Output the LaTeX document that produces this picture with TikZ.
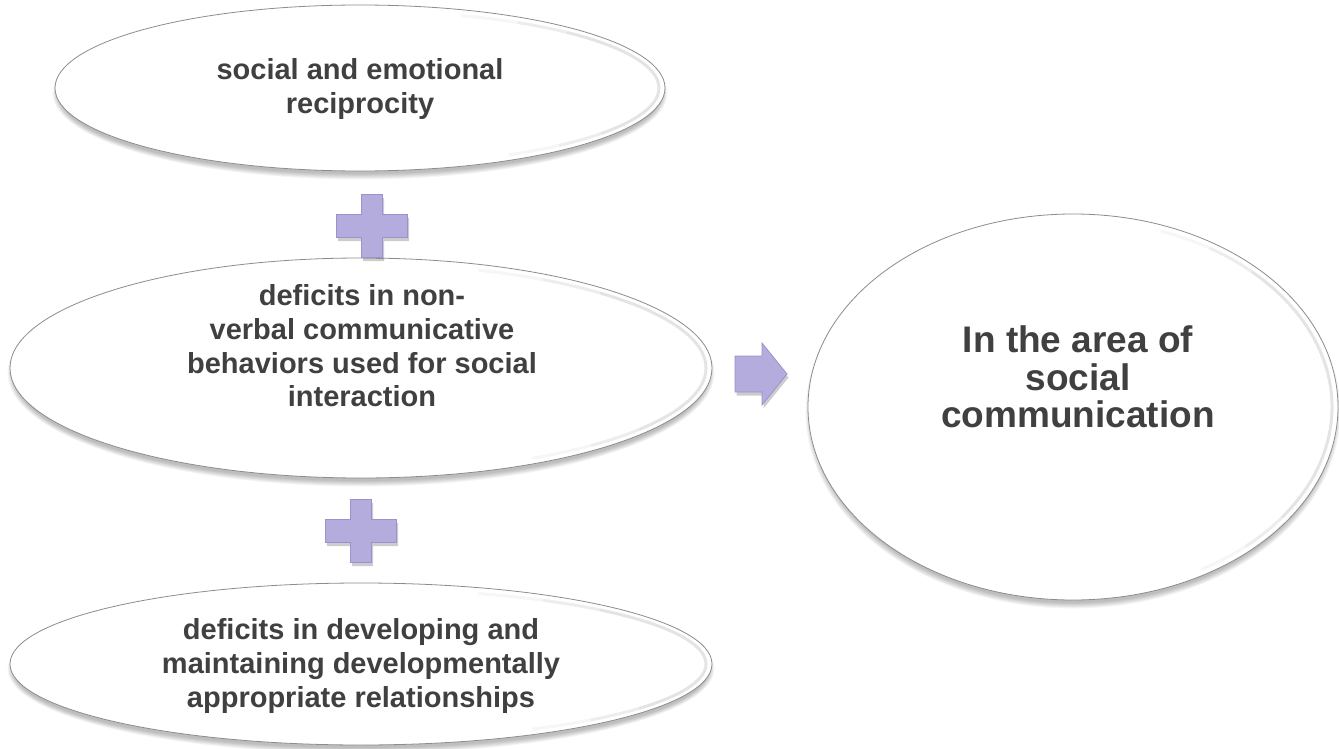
\documentclass[tikz,border=0pt]{standalone}
\usepackage{fontspec}
\setmainfont{Liberation Sans}
\usetikzlibrary{shapes.geometric}
\definecolor{txt}{HTML}{404040}
\definecolor{lav}{HTML}{B3ACDC}
\definecolor{lavd}{HTML}{9A92CE}
\definecolor{edgegray}{HTML}{8C8C8C}
\newcommand{\ovalshadow}[4]{%
  \foreach \k in {0,...,6}{%
    \fill[black,opacity=0.04] ({#1},{#2+5}) ellipse[x radius={#3+\k*0.9-3}, y radius={#4+\k*0.9-2}];
  }}
\newcommand{\ovalrim}[4]{%
  \foreach \a/\b in {-70/60,-58/48,-46/36}{%
    \draw[black, opacity=0.035, line width=3pt, line cap=round] ({#1},{#2}) ++(\a:{#3-6} and {#4-6})
      arc[start angle=\a, end angle=\b, x radius={#3-6}, y radius={#4-6}];
  }}
\tikzset{
  oval/.style={ellipse, draw=edgegray, line width=0.8pt, fill=white, inner sep=0pt},
  label text/.style={align=center, text=txt, inner sep=0pt},
  smalltext/.style={font=\bfseries\fontsize{29}{33.7}\selectfont},
  bigtext/.style={font=\bfseries\fontsize{37}{37.5}\selectfont},
  plusbox/.style={fill=lav, draw=lavd, line width=0.8pt, line join=miter},
  shadowfill/.style={fill=black, opacity=0.2}
}
\begin{document}
\begin{tikzpicture}[x=1pt,y=-1pt]
\fill[white] (0,0) rectangle (1339,749);
\useasboundingbox (0,0) rectangle (1339,749);
% shadows
\ovalshadow{360}{88}{305}{83}
\ovalshadow{361}{368}{351}{110}
\ovalshadow{361}{664}{351}{81}
\ovalshadow{1073}{407}{265}{193}
% ellipses
\node[oval, minimum width=610pt, minimum height=166pt] (top) at (360,88) {};
\node[oval, minimum width=702pt, minimum height=220pt] (mid) at (361,368) {};
\node[oval, minimum width=702pt, minimum height=162pt] (bot) at (361,664) {};
\node[oval, minimum width=530pt, minimum height=386pt] (res) at (1073,407) {};
\ovalrim{360}{88}{305}{83}
\ovalrim{361}{368}{351}{110}
\ovalrim{361}{664}{351}{81}
\ovalrim{1073}{407}{265}{193}
% texts
\node[label text, smalltext] (toptxt) at (360,89)
  {social and emotional\\reciprocity};
\node[label text, smalltext] (midtxt) at (362,346)
  {deficits in non-\\verbal communicative\\behaviors used for social\\interaction};
\node[label text, smalltext] (bottxt) at (361,666)
  {deficits in developing and\\maintaining developmentally\\appropriate relationships};
\node[label text, bigtext] (restxt) at (1078,377)
  {In the area of\\social\\communication};
% plus signs
\coordinate (p1) at (372,226);
\coordinate (p2) at (361,531);
\foreach \c in {p1,p2}{
  \fill[shadowfill, shift={(\c)}, xshift=1.5pt, yshift=-3.5pt]
    (-35.5,-11.5) -- (-10.5,-11.5) -- (-10.5,-31.5) -- (10.5,-31.5) -- (10.5,-11.5) -- (35.5,-11.5)
    -- (35.5,11.5) -- (10.5,11.5) -- (10.5,31.5) -- (-10.5,31.5) -- (-10.5,11.5) -- (-35.5,11.5) -- cycle;
  \draw[plusbox, shift={(\c)}]
    (-35.5,-11.5) -- (-10.5,-11.5) -- (-10.5,-31.5) -- (10.5,-31.5) -- (10.5,-11.5) -- (35.5,-11.5)
    -- (35.5,11.5) -- (10.5,11.5) -- (10.5,31.5) -- (-10.5,31.5) -- (-10.5,11.5) -- (-35.5,11.5) -- cycle;
}
% arrow
\coordinate (ar) at (761,374);
\fill[shadowfill, shift={(ar)}, xshift=1.5pt, yshift=-3.5pt]
  (-26,-18) -- (1,-18) -- (1,-31) -- (26,0) -- (1,31) -- (1,18) -- (-26,18) -- cycle;
\draw[plusbox, shift={(ar)}]
  (-26,-18) -- (1,-18) -- (1,-31) -- (26,0) -- (1,31) -- (1,18) -- (-26,18) -- cycle;
\end{tikzpicture}
\end{document}
